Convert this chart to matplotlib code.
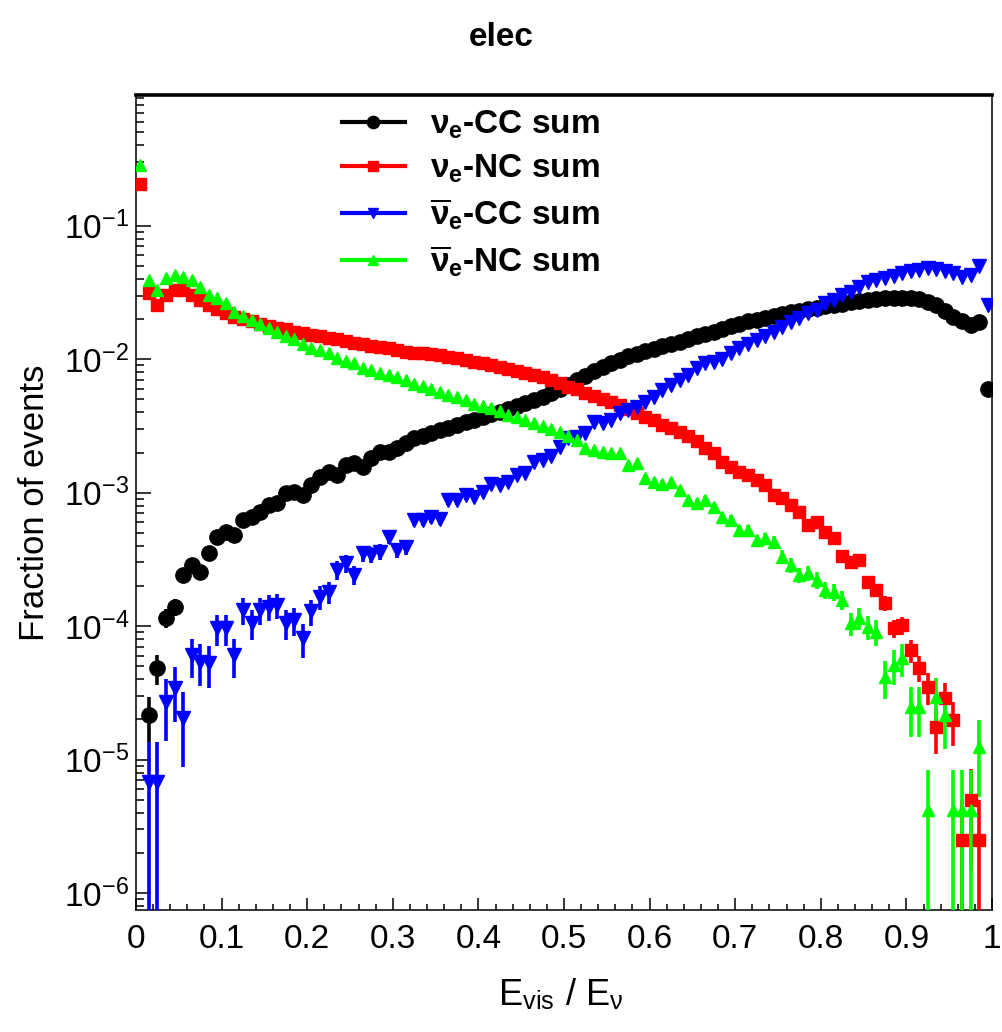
import numpy as np
import matplotlib
matplotlib.use("Agg")
import matplotlib.pyplot as plt
from matplotlib.lines import Line2D
from matplotlib.ticker import LogLocator, FixedLocator, MultipleLocator, FuncFormatter

plt.rcParams['font.family'] = ['Liberation Sans', 'DejaVu Sans']
plt.rcParams['mathtext.fontset'] = 'stix'

# ── data: fraction of events per bin, 100 bins of 0.01 in E_vis/E_nu ─────────
nan = np.nan
bin_edges = np.linspace(0.0, 1.0, 101)
bin_centres = 0.5 * (bin_edges[:-1] + bin_edges[1:])

nue_cc = [nan, 2.16e-5, 4.83e-5, 1.15e-4, 1.40e-4, 2.42e-4, 2.87e-4, 2.56e-4, 3.51e-4, 4.68e-4,
          5.11e-4, 4.82e-4, 6.24e-4, 6.61e-4, 7.21e-4, 8.09e-4, 8.32e-4, 9.89e-4, 1.02e-3, 9.6e-4,
          1.14e-3, 1.32e-3, 1.44e-3, 1.36e-3, 1.61e-3, 1.66e-3, 1.57e-3, 1.81e-3, 2.03e-3, 2.03e-3,
          2.15e-3, 2.34e-3, 2.55e-3, 2.68e-3, 2.80e-3, 2.93e-3, 3.07e-3, 3.22e-3, 3.37e-3, 3.53e-3,
          3.70e-3, 3.87e-3, 4.05e-3, 4.25e-3, 4.46e-3, 4.70e-3, 4.95e-3, 5.25e-3, 5.60e-3, 6.00e-3,
          6.45e-3, 6.95e-3, 7.50e-3, 8.10e-3, 8.70e-3, 9.30e-3, 9.90e-3, 1.05e-2, 1.10e-2, 1.15e-2,
          1.20e-2, 1.25e-2, 1.30e-2, 1.35e-2, 1.42e-2, 1.49e-2, 1.55e-2, 1.60e-2, 1.68e-2, 1.77e-2,
          1.84e-2, 1.92e-2, 1.98e-2, 2.03e-2, 2.11e-2, 2.18e-2, 2.24e-2, 2.30e-2, 2.36e-2, 2.43e-2,
          2.52e-2, 2.55e-2, 2.59e-2, 2.70e-2, 2.75e-2, 2.80e-2, 2.81e-2, 2.85e-2, 2.88e-2, 2.86e-2,
          2.88e-2, 2.82e-2, 2.70e-2, 2.56e-2, 2.30e-2, 2.08e-2, 1.93e-2, 1.80e-2, 1.91e-2, 5.94e-3]

nue_nc = [0.205, 0.0311, 0.0255, 0.0303, 0.0330, 0.0330, 0.0303, 0.0277, 0.0255, 0.0236,
          0.0220, 0.0208, 0.0199, 0.0192, 0.0183, 0.0178, 0.0172, 0.0167, 0.0161, 0.0157,
          0.0152, 0.0148, 0.0145, 0.0141, 0.0137, 0.0133, 0.0130, 0.0126, 0.0124, 0.0121,
          0.0117, 0.0114, 0.0111, 0.0111, 0.0109, 0.0108, 0.0104, 0.0102, 0.00986, 0.00958,
          0.00931, 0.00899, 0.00869, 0.00844, 0.00820, 0.00793, 0.00761, 0.00731, 0.00698, 0.00659,
          0.00622, 0.00594, 0.00562, 0.00531, 0.00506, 0.00480, 0.00454, 0.00422, 0.00393, 0.00371,
          0.00350, 0.00321, 0.00305, 0.00285, 0.00268, 0.00245, 0.00215, 0.00200, 0.00171, 0.00157,
          0.00144, 0.00136, 0.00124, 0.00114, 9.6e-4, 9.2e-4, 8.1e-4, 7.2e-4, 5.7e-4, 6.0e-4,
          5.1e-4, 4.55e-4, 3.36e-4, 3.04e-4, 3.13e-4, 2.13e-4, 1.87e-4, 1.50e-4, 9.64e-5, 1.02e-4,
          6.6e-5, 4.9e-5, 3.5e-5, 1.77e-5, 2.88e-5, 1.98e-5, 2.5e-6, 5.0e-6, 2.5e-6, nan]

nuebar_cc = [nan, 6.84e-6, 6.84e-6, 2.72e-5, 3.42e-5, 2.04e-5, 6.08e-5, 5.42e-5, 5.27e-5, 9.64e-5,
             9.64e-5, 6.08e-5, 1.32e-4, 1.05e-4, 1.32e-4, 1.40e-4, 1.44e-4, 1.05e-4, 1.11e-4, 8.1e-5,
             1.29e-4, 1.66e-4, 1.81e-4, 2.64e-4, 2.96e-4, 2.42e-4, 3.51e-4, 3.43e-4, 3.61e-4, 4.68e-4,
             3.72e-4, 3.94e-4, 6.24e-4, 6.24e-4, 6.61e-4, 6.40e-4, 8.81e-4, 8.81e-4, 9.6e-4, 9.3e-4,
             1.02e-3, 1.17e-3, 1.14e-3, 1.21e-3, 1.36e-3, 1.40e-3, 1.71e-3, 1.76e-3, 1.88e-3, 2.21e-3,
             2.55e-3, 2.63e-3, 2.78e-3, 3.40e-3, 3.31e-3, 3.50e-3, 3.93e-3, 4.16e-3, 4.41e-3, 4.81e-3,
             5.24e-3, 5.88e-3, 6.40e-3, 6.98e-3, 7.61e-3, 8.54e-3, 9.3e-3, 9.58e-3, 1.01e-2, 1.11e-2,
             1.21e-2, 1.31e-2, 1.39e-2, 1.48e-2, 1.61e-2, 1.75e-2, 1.91e-2, 2.02e-2, 2.20e-2, 2.33e-2,
             2.62e-2, 2.77e-2, 3.03e-2, 3.21e-2, 3.49e-2, 3.81e-2, 3.92e-2, 4.03e-2, 4.20e-2, 4.40e-2,
             4.60e-2, 4.65e-2, 4.79e-2, 4.71e-2, 4.60e-2, 4.40e-2, 4.15e-2, 4.27e-2, 4.99e-2, 2.55e-2]

nuebar_nc = [0.285, 0.0392, 0.0330, 0.0403, 0.0427, 0.0415, 0.0392, 0.0349, 0.0303, 0.0286,
             0.0262, 0.0227, 0.0210, 0.0197, 0.0183, 0.0170, 0.0161, 0.0149, 0.0141, 0.0131,
             0.0121, 0.0117, 0.0111, 0.0102, 0.00964, 0.00930, 0.00863, 0.00830, 0.00783, 0.00760,
             0.00740, 0.00698, 0.00655, 0.00630, 0.00594, 0.00571, 0.00539, 0.00518, 0.00495, 0.00462,
             0.00446, 0.00428, 0.00411, 0.00382, 0.00366, 0.00350, 0.00330, 0.00316, 0.00298, 0.00286,
             0.00266, 0.00248, 0.00215, 0.00209, 0.00203, 0.00197, 0.00197, 0.00161, 0.00166, 0.00128,
             0.00121, 0.00117, 0.00121, 0.00105, 8.81e-4, 8.32e-4, 8.81e-4, 7.86e-4, 6.61e-4, 6.24e-4,
             5.25e-4, 5.25e-4, 4.42e-4, 4.55e-4, 4.30e-4, 3.32e-4, 2.87e-4, 2.42e-4, 2.49e-4, 2.22e-4,
             1.87e-4, 1.81e-4, 1.57e-4, 1.05e-4, 1.15e-4, 9.9e-5, 9.1e-5, 4.19e-5, 5.12e-5, 5.74e-5,
             2.49e-5, 2.49e-5, 4.2e-6, 2.96e-5, 2.16e-5, 4.2e-6, 4.2e-6, 4.2e-6, 1.25e-5, nan]

# weight of a single MC event in each sample
event_weight = {"nue_cc": 3.0e-6, "nue_nc": 2.5e-6, "nuebar_cc": 6.5e-6, "nuebar_nc": 4.2e-6}

series = [
    ("nue_cc",    nue_cc,    r"$\mathregular{\nu_{e}}$-CC sum",           "black",   "o", 11.0),
    ("nue_nc",    nue_nc,    r"$\mathregular{\nu_{e}}$-NC sum",           "#ff0000", "s", 8.3),
    ("nuebar_cc", nuebar_cc, r"$\mathregular{\overline{\nu}_{e}}$-CC sum", "#0000ff", "v", 9.5),
    ("nuebar_nc", nuebar_nc, r"$\mathregular{\overline{\nu}_{e}}$-NC sum", "#00ff00", "^", 9.0),
]

# ── figure ────────────────────────────────────────────────────────────────────
fig = plt.figure(figsize=(10.02, 10.32), dpi=100)
ax = fig.add_axes([136 / 1002, 1 - 910 / 1032, (992 - 136) / 1002, (910 - 95) / 1032])

handles = []
for key, vals, label, col, mk, ms in series:
    v = np.array(vals, dtype=float)
    err = np.sqrt(v * event_weight[key])
    lo = np.minimum(err, v * 0.999999)
    ax.errorbar(bin_centres, v, yerr=[lo, err], fmt=mk, color=col, ms=ms,
                mec=col, mfc=col, elinewidth=2.6, capsize=0, clip_on=True, zorder=3)
    handles.append(Line2D([0], [0], color=col, lw=3, marker=mk, ms=ms * 0.8,
                          mfc=col, mec=col, label=label))

ax.set_yscale("log")
ax.set_xlim(0, 1)
ax.set_ylim(7.48e-7, 0.953)

ax.xaxis.set_major_locator(MultipleLocator(0.1))
ax.xaxis.set_minor_locator(MultipleLocator(0.02))
ax.xaxis.set_major_formatter(FuncFormatter(lambda x, p: f"{x:.1f}".rstrip("0").rstrip(".") if x else "0"))
ax.yaxis.set_major_locator(FixedLocator([1e-6, 1e-5, 1e-4, 1e-3, 1e-2, 1e-1]))
ax.yaxis.set_minor_locator(LogLocator(base=10, subs=np.arange(2, 10), numticks=20))
ax.yaxis.set_major_formatter(FuncFormatter(lambda y, p: r"$\mathregular{10^{%d}}$" % round(np.log10(y))))
ax.yaxis.set_minor_formatter(FuncFormatter(lambda y, p: ""))

ax.tick_params(axis="both", which="both", direction="in", top=False, right=False, width=1.1)
ax.tick_params(axis="y", which="major", length=11, labelsize=24, pad=5)
ax.tick_params(axis="y", which="minor", length=5.5)
ax.tick_params(axis="x", which="major", length=8.5, labelsize=24, pad=10)
ax.tick_params(axis="x", which="minor", length=4.3)

for s in ["left", "right", "bottom"]:
    ax.spines[s].set_linewidth(1.1)
ax.spines["top"].set_linewidth(2.6)

ax.set_ylabel("Fraction of events", fontsize=25)
ax.yaxis.set_label_coords(-0.099, 0.5)
fig.text(0.56, 1 - 995 / 1032, r"E$_{\mathregular{vis}}$ / E$_{\mathregular{\nu}}$", fontsize=26,
         ha="center", va="center")
fig.text(0.5, 1 - 38 / 1032, "elec", fontsize=24, fontweight="bold", ha="center", va="center")

leg = ax.legend(handles=handles, loc="upper left", bbox_to_anchor=(0.213, 1.012),
                frameon=False, prop={"size": 24, "weight": "bold"},
                handlelength=1.9, handletextpad=0.75, labelspacing=0.34, borderpad=0.2)

fig.savefig("out.png", dpi=100)
